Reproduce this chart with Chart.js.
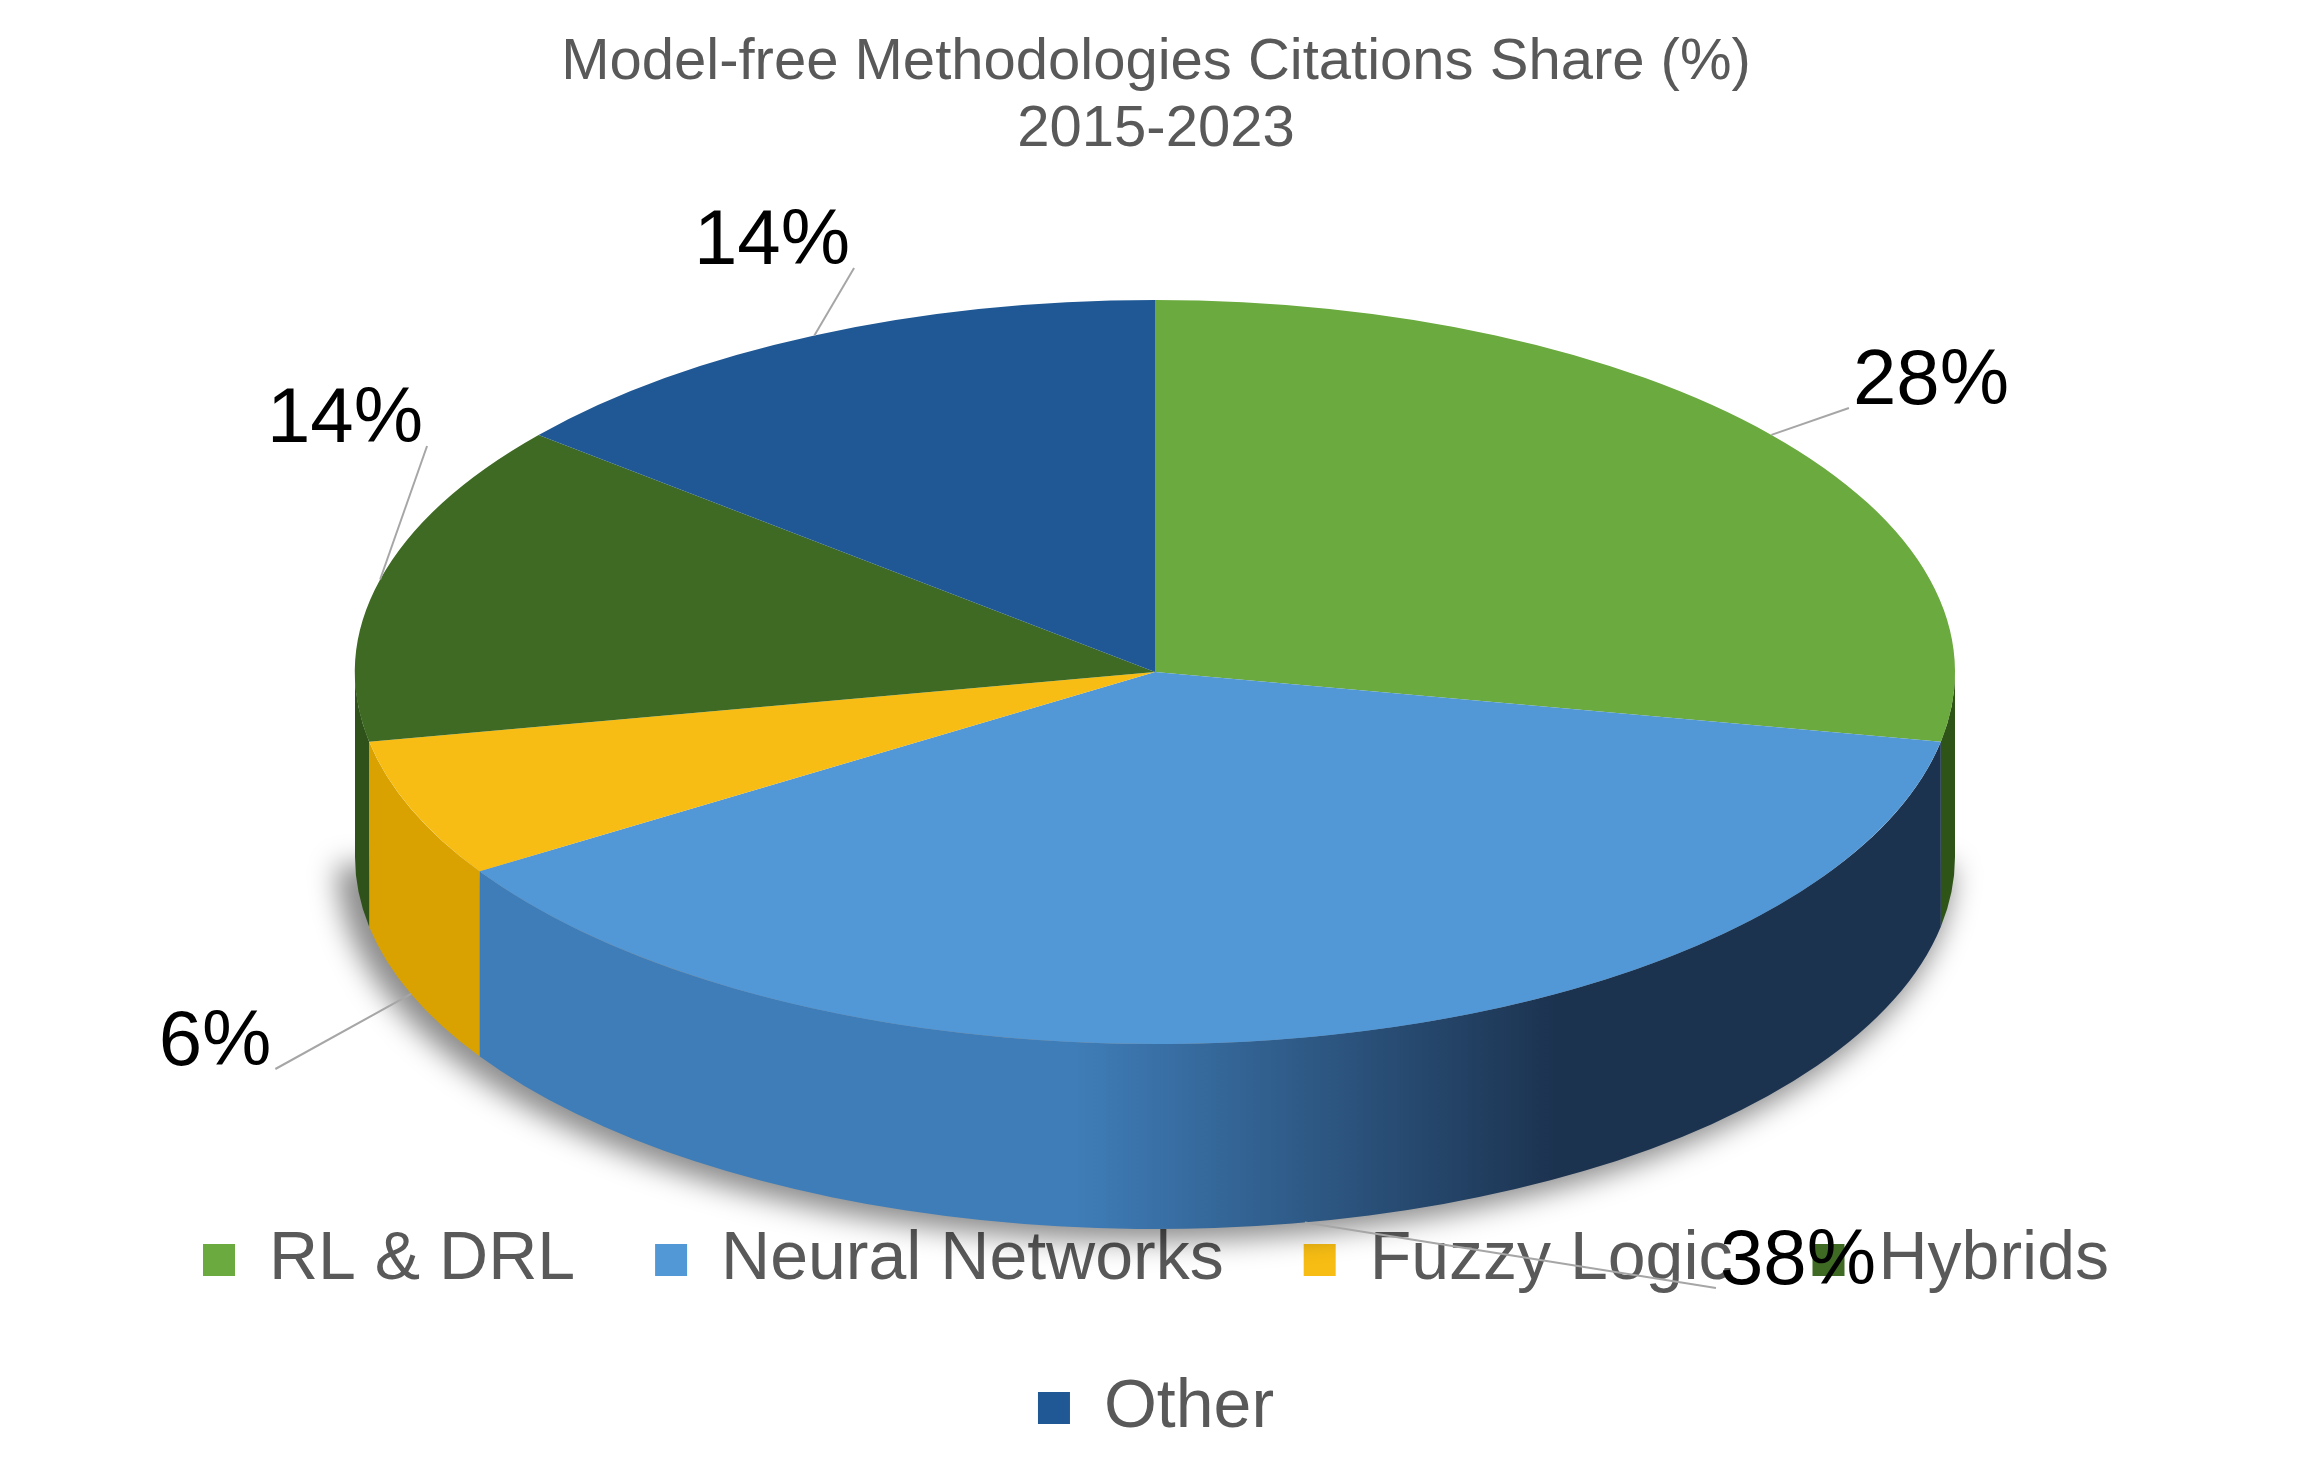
<!DOCTYPE html>
<html>
<head>
<meta charset="utf-8">
<script src="https://cdn.jsdelivr.net/npm/chart.js@4.4.0/dist/chart.umd.min.js"></script>
<style>
  html, body { margin: 0; padding: 0; background: #fff; }
  #wrap { width: 2312px; height: 1472px; }
</style>
</head>
<body>
<div id="wrap"><canvas id="myChart"></canvas></div>
<script>
const categories = ['RL & DRL', 'Neural Networks', 'Fuzzy Logic', 'Hybrids', 'Other'];
const shares = [28, 38, 6, 14, 14];
const topColors = ['#6aaa3e', '#5297d6', '#f7bd14', '#3f6a24', '#1f5895'];
const sideLight = ['#4f8a2c', '#3f7db8', '#d9a200', '#2f521b', '#173f6c'];
const sideDark = ['#2f5418', '#1c3350', '#8a6800', '#1c3310', '#0d2440'];

// 3D ellipse geometry on screen
const X = 1155, Y = 672, RX = 800, RY = 372, DEPTH = 185;
// label text centres
const labelPos = [[1931, 382], [1798, 1262], [215, 1043], [345, 420], [772, 242]];

const pie3d = {
  id: 'pie3d',
  beforeDatasetsDraw(chart) {
    const ctx = chart.ctx;
    const arcs = chart.getDatasetMeta(0).data;
    ctx.save();
    ctx.filter = 'blur(14px)';
    ctx.fillStyle = 'rgba(0,0,0,0.45)';
    ctx.beginPath();
    ctx.ellipse(X - 10, Y + DEPTH + 8, RX + 8, RY + 4, 0, 0, Math.PI);
    ctx.fill();
    ctx.restore();
    arcs.forEach((a, i) => {
      let s = Math.max(a.startAngle, 0), e = Math.min(a.endAngle, Math.PI);
      if (e <= s) return;
      const g = ctx.createLinearGradient(X - RX, 0, X + RX, 0);
      g.addColorStop(0, sideLight[i]);
      g.addColorStop(0.45, sideLight[i]);
      g.addColorStop(0.75, sideDark[i]);
      g.addColorStop(1, sideDark[i]);
      ctx.fillStyle = g;
      ctx.beginPath();
      ctx.ellipse(X, Y, RX, RY, 0, s, e);
      ctx.ellipse(X, Y + DEPTH, RX, RY, 0, e, s, true);
      ctx.closePath();
      ctx.fill();
    });
    const a0 = arcs[0];
    const r = a0.outerRadius;
    ctx.save();
    ctx.translate(X, Y);
    ctx.scale(RX / r, RY / r);
    ctx.translate(-a0.x, -a0.y);
  },
  afterDatasetsDraw(chart) {
    const ctx = chart.ctx;
    ctx.restore();
    const arcs = chart.getDatasetMeta(0).data;
    ctx.save();
    ctx.font = '78px Arial, "Liberation Sans"';
    ctx.fillStyle = '#000';
    ctx.textBaseline = 'middle';
    ctx.strokeStyle = '#a6a6a6';
    ctx.lineWidth = 2;
    arcs.forEach((a, i) => {
      const m = (a.startAngle + a.endAngle) / 2;
      let ex = X + RX * Math.cos(m), ey = Y + RY * Math.sin(m);
      if (Math.sin(m) > 0.3) ey += DEPTH;
      const [lx, ly] = labelPos[i];
      const txt = shares[i] + '%';
      const w = ctx.measureText(txt).width;
      const left = lx > ex;
      const endX = left ? lx - w / 2 - 4 : lx + w / 2 + 4;
      ctx.beginPath();
      ctx.moveTo(ex, ey);
      ctx.lineTo(endX, ly + 26);
      ctx.stroke();
      ctx.textAlign = 'center';
      ctx.fillText(txt, lx, ly);
    });
    ctx.restore();
  }
};

const ctx = document.getElementById('myChart').getContext('2d');
const myChart = new Chart(ctx, {
  type: 'pie',
  data: {
    labels: categories,
    datasets: [{
      data: shares,
      backgroundColor: topColors,
      borderWidth: 0,
    }]
  },
  options: {
    responsive: true,
    maintainAspectRatio: false,
    animation: false,
    layout: { padding: { left: 10, right: 10, top: 10, bottom: 20 } },
    plugins: {
      title: {
        display: true,
        text: ['Model-free Methodologies Citations Share (%)', '2015-2023'],
        color: '#595959',
        font: { size: 58, family: 'Arial, "Liberation Sans"', weight: 'normal', lineHeight: 1.15 },
        padding: { top: 20, bottom: 20 }
      },
      legend: {
        display: true,
        position: 'bottom',
        labels: {
          color: '#595959',
          font: { size: 68, family: 'Arial, "Liberation Sans"' },
          usePointStyle: true,
          pointStyle: 'rect',
          boxWidth: 32,
          boxHeight: 32,
          padding: 80
        }
      },
      tooltip: { enabled: false }
    }
  },
  plugins: [pie3d]
});
</script>
</body>
</html>
